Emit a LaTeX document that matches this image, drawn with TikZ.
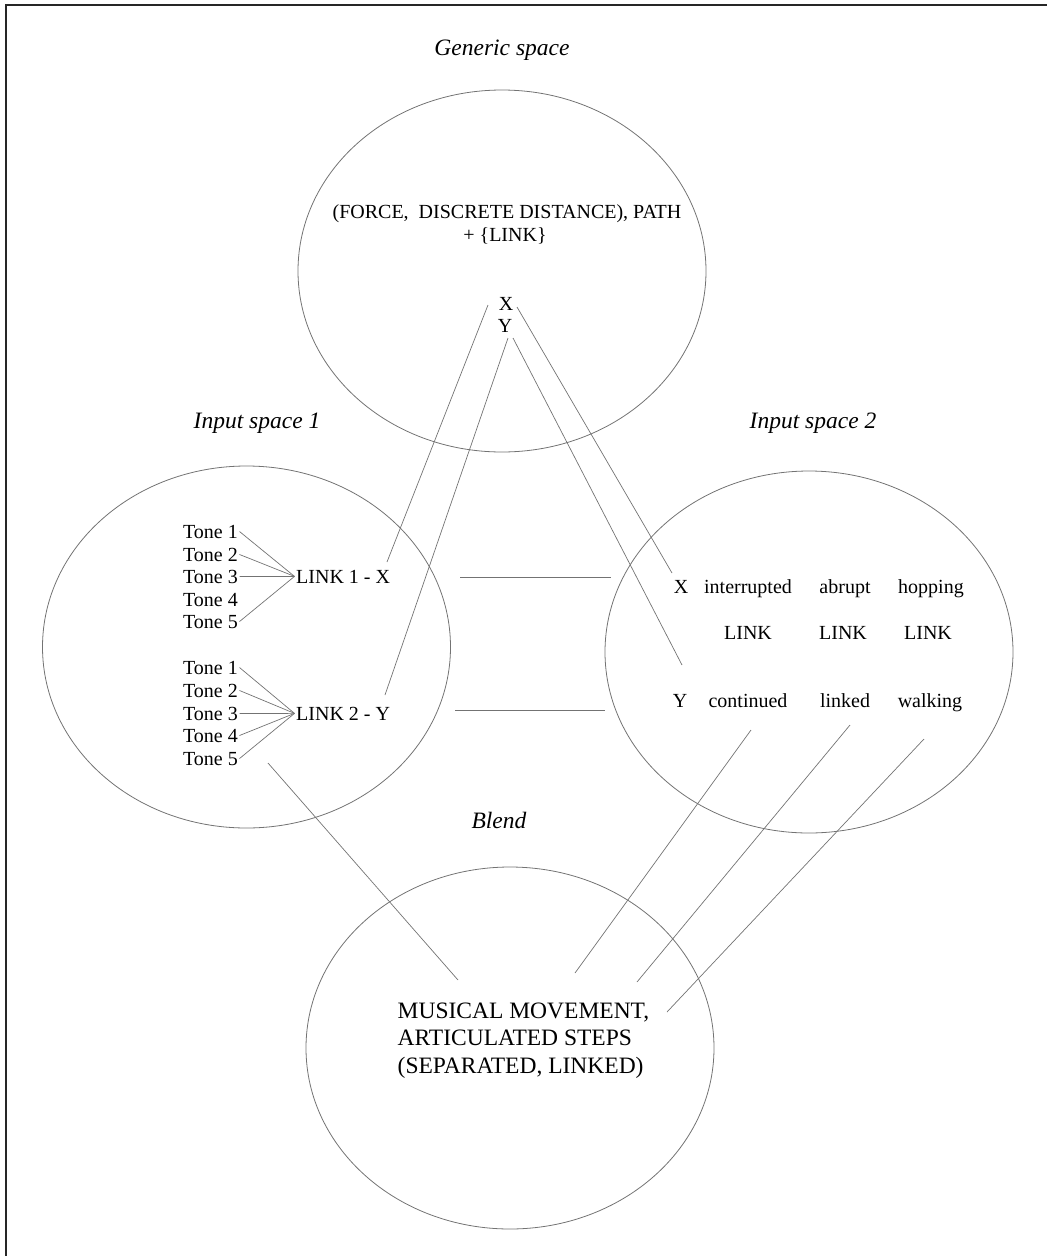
\documentclass[tikz,border=0pt]{standalone}
\usepackage{fontspec}
\setmainfont{Liberation Serif}
\usetikzlibrary{shapes.geometric}
\begin{document}
\begin{tikzpicture}[x=1pt,y=-1pt,
  space/.style={draw=black!55, line width=0.8pt, ellipse, minimum width=408pt, minimum height=362pt, inner sep=0pt},
  conn/.style={draw=black!55, line width=0.7pt},
  txt/.style={font=\fontsize{20}{23}\selectfont, inner sep=1.5pt},
  big/.style={font=\fontsize{23.5}{27.5}\selectfont, inner sep=1.5pt},
  ttl/.style={font=\fontsize{23.5}{28}\selectfont\itshape, inner sep=1pt, anchor=base},
  ]
\useasboundingbox (0,0) rectangle (1047,1256);
\draw[line width=1.6pt, black!85] (6,1275) -- (6,5) -- (1065,5);

% spaces
\node[space] (gen) at (502,271) {};
\node[space] (in1) at (246.5,647) {};
\node[space] (in2) at (809,652) {};
\node[space] (bl) at (510,1048) {};

% titles
\node[ttl] (tgen) at (502,55) {Generic space};
\node[ttl] (tin1) at (257,428) {Input space 1};
\node[ttl] (tin2) at (813,428) {Input space 2};
\node[ttl] (tbl) at (499,828) {Blend};

% generic contents
\node[txt, anchor=base] (g1) at (507,218) {(FORCE,\ \ DISCRETE DISTANCE), PATH};
\node[txt, anchor=base] (g2) at (505,241) {+ \{LINK\}};
\node[txt, anchor=base] (gx) at (506,310) {X};
\node[txt, anchor=base] (gy) at (505,332) {Y};

% input 1 contents
\foreach \n/\y in {1/538,2/561,3/583,4/606,5/628}
  \node[txt, anchor=base east] (a\n) at (239.5,\y) {Tone \n};
\foreach \n/\y in {1/674,2/697,3/720,4/742,5/765}
  \node[txt, anchor=base east] (b\n) at (239.5,\y) {Tone \n};
\node[txt, anchor=base west] (l1) at (294.5,583) {LINK 1 - X};
\node[txt, anchor=base west] (l2) at (294.5,720) {LINK 2 - Y};
\foreach \n in {1,2,3,5} \draw[conn] (a\n.east) -- (l1.west);
\foreach \n in {1,2,3,4,5} \draw[conn] (b\n.east) -- (l2.west);

% input 2 contents
\node[txt, anchor=base] (x2) at (681,593) {X};
\node[txt, anchor=base] (c1) at (748,593) {interrupted};
\node[txt, anchor=base] (c2) at (845,593) {abrupt};
\node[txt, anchor=base] (c3) at (931,593) {hopping};
\node[txt, anchor=base] (k1) at (748,639) {LINK};
\node[txt, anchor=base] (k2) at (843,639) {LINK};
\node[txt, anchor=base] (k3) at (928,639) {LINK};
\node[txt, anchor=base] (y2) at (680,707) {Y};
\node[txt, anchor=base] (d1) at (748,707) {continued};
\node[txt, anchor=base] (d2) at (845,707) {linked};
\node[txt, anchor=base] (d3) at (930,707) {walking};

% blend contents
\node[big, anchor=base west] (m1) at (396,1018) {MUSICAL MOVEMENT,};
\node[big, anchor=base west] (m2) at (396,1045) {ARTICULATED STEPS};
\node[big, anchor=base west] (m3) at (396,1073) {(SEPARATED, LINKED)};

% connector end points
\coordinate (gxl) at (488,305);
\coordinate (gyl) at (508,338);
\coordinate (gxr) at (517,307);
\coordinate (gyr) at (513,338);
\coordinate (l1e) at (387,562);
\coordinate (l2e) at (385,695);
\coordinate (x2e) at (672,573);
\coordinate (y2e) at (682,665);
\coordinate (h1a) at (460,577);
\coordinate (h1b) at (611,577);
\coordinate (h2a) at (455,710);
\coordinate (h2b) at (605,710);
\coordinate (i1s) at (268,763);
\coordinate (i1e) at (458,980);
\coordinate (d1s) at (751,730);
\coordinate (d1e) at (575,973);
\coordinate (d2s) at (850,725);
\coordinate (d2e) at (637,982);
\coordinate (d3s) at (924,739);
\coordinate (d3e) at (667,1012);

\draw[conn] (gxl) -- (l1e);
\draw[conn] (gyl) -- (l2e);
\draw[conn] (gxr) -- (x2e);
\draw[conn] (gyr) -- (y2e);
\draw[conn] (h1a) -- (h1b);
\draw[conn] (h2a) -- (h2b);
\draw[conn] (i1s) -- (i1e);
\draw[conn] (d1s) -- (d1e);
\draw[conn] (d2s) -- (d2e);
\draw[conn] (d3s) -- (d3e);
\end{tikzpicture}
\end{document}
